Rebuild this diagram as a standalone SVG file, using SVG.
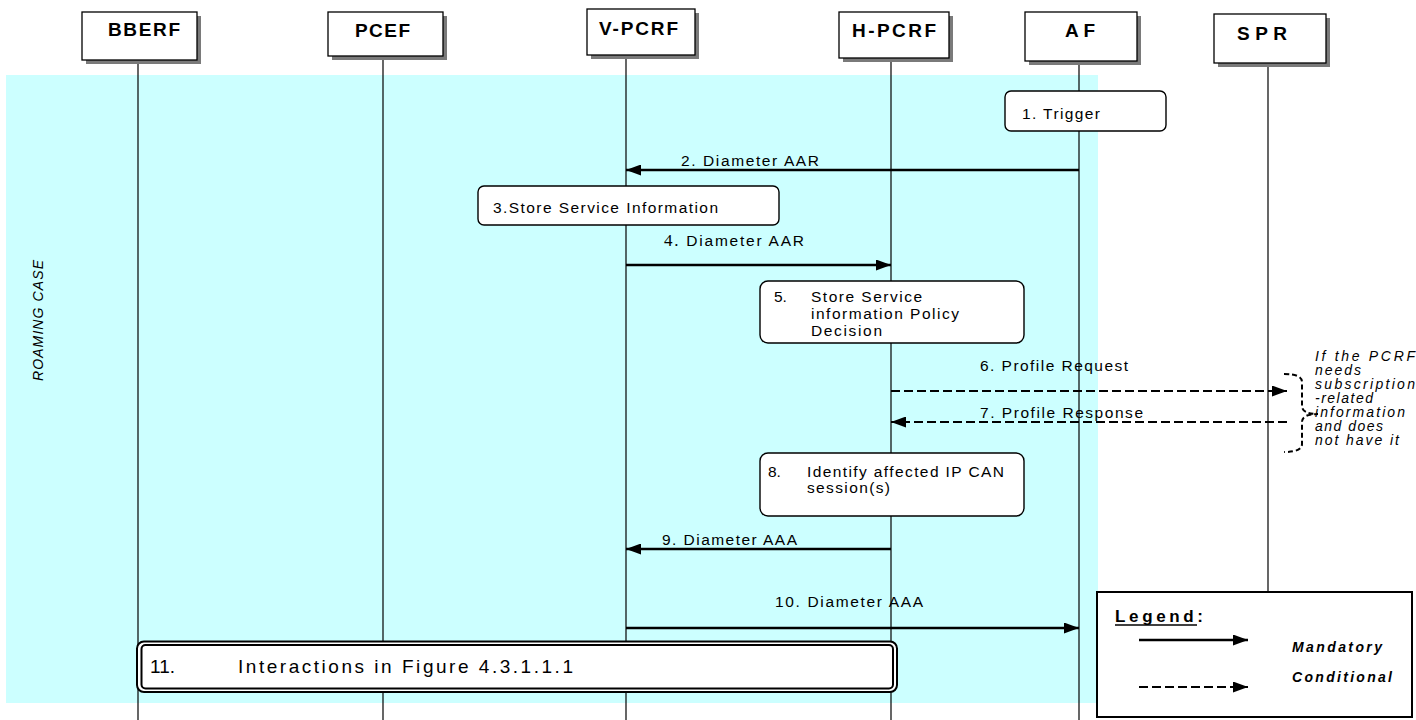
<svg xmlns="http://www.w3.org/2000/svg" width="1416" height="720" viewBox="0 0 1416 720">
<defs>
<style>
text{font-family:"Liberation Sans",Arial,sans-serif;fill:#000}
.pbox{fill:#fff;stroke:#000;stroke-width:1.3}
.shadow{fill:#7a7a7a}
.pname{font-size:19px;font-weight:bold}
.life{stroke:#000;stroke-width:1.2;fill:none}
.step{fill:#fff;stroke:#000;stroke-width:1.4}
.lbl{font-size:15.5px}
.msg{stroke:#000;stroke-width:2.5;fill:none}
.dash{stroke:#000;stroke-width:2;fill:none;stroke-dasharray:9 4}
.note{font-size:14px;font-style:italic}
</style>
<marker id="ah" markerUnits="userSpaceOnUse" markerWidth="15" markerHeight="11" refX="15" refY="5.5" orient="auto">
<path d="M0,0 L15,5.5 L0,11 Z" fill="#000"/>
</marker>
</defs>

<rect x="6" y="75" width="1092" height="628" fill="#CCFFFF"/>

<text class="note" transform="translate(43,381) rotate(-90)" x="0" y="0" font-size="15" textLength="121" lengthAdjust="spacing">ROAMING CASE</text>

<g id="BBERF">
<line class="life" x1="138" y1="60" x2="138" y2="720"/>
<rect class="shadow" x="86" y="16" width="115" height="48"/>
<rect class="pbox" x="82" y="12" width="115" height="48"/>
<text class="pname" x="108" y="36" textLength="72" lengthAdjust="spacing">BBERF</text>
</g>
<g id="PCEF">
<line class="life" x1="383" y1="56" x2="383" y2="720"/>
<rect class="shadow" x="332" y="16" width="115" height="44"/>
<rect class="pbox" x="328" y="12" width="115" height="44"/>
<text class="pname" x="355" y="37" textLength="55" lengthAdjust="spacing">PCEF</text>
</g>
<g id="V-PCRF">
<line class="life" x1="626" y1="55" x2="626" y2="720"/>
<rect class="shadow" x="591" y="13" width="108" height="46"/>
<rect class="pbox" x="587" y="9" width="108" height="46"/>
<text class="pname" x="599" y="35" textLength="79" lengthAdjust="spacing">V-PCRF</text>
</g>
<g id="H-PCRF">
<line class="life" x1="891" y1="58" x2="891" y2="720"/>
<rect class="shadow" x="843" y="16" width="110" height="46"/>
<rect class="pbox" x="839" y="12" width="110" height="46"/>
<text class="pname" x="852" y="37" textLength="84" lengthAdjust="spacing">H-PCRF</text>
</g>
<g id="AF">
<line class="life" x1="1079" y1="61" x2="1079" y2="720"/>
<rect class="shadow" x="1029" y="16" width="112" height="49"/>
<rect class="pbox" x="1025" y="12" width="112" height="49"/>
<text class="pname" x="1065" y="37" textLength="30" lengthAdjust="spacing">AF</text>
</g>
<g id="SPR">
<line class="life" x1="1268" y1="63" x2="1268" y2="592"/>
<rect class="shadow" x="1218" y="18" width="112" height="49"/>
<rect class="pbox" x="1214" y="14" width="112" height="49"/>
<text class="pname" x="1237" y="40" textLength="50" lengthAdjust="spacing">SPR</text>
</g>

<g id="step1">
<rect class="step" x="1005" y="91" width="161" height="40" rx="6"/>
<text class="lbl" x="1022" y="119" textLength="78" lengthAdjust="spacing">1. Trigger</text>
</g>
<g id="step3">
<rect class="step" x="478" y="186" width="301" height="39" rx="6"/>
<text class="lbl" x="493" y="213" textLength="225" lengthAdjust="spacing">3.Store Service Information</text>
</g>
<g id="step5">
<rect class="step" x="760" y="281" width="264" height="62" rx="8"/>
<text class="lbl" x="774" y="302">5.</text>
<text class="lbl" x="811" y="302" textLength="111" lengthAdjust="spacing">Store Service</text>
<text class="lbl" x="811" y="319" textLength="148" lengthAdjust="spacing">information Policy</text>
<text class="lbl" x="811" y="336" textLength="71" lengthAdjust="spacing">Decision</text>
</g>
<g id="step8">
<rect class="step" x="760" y="453" width="264" height="63" rx="8"/>
<text class="lbl" x="768" y="477">8.</text>
<text class="lbl" x="807" y="477" textLength="197" lengthAdjust="spacing">Identify affected IP CAN</text>
<text class="lbl" x="807" y="493" textLength="83" lengthAdjust="spacing">session(s)</text>
</g>
<g id="step11">
<rect x="137" y="641.5" width="760" height="50.5" rx="7" fill="#fff" stroke="#000" stroke-width="2"/>
<rect x="141.5" y="645" width="751.5" height="43.5" rx="4" fill="none" stroke="#000" stroke-width="2"/>
<text x="150" y="673" font-size="19">11.</text>
<text x="238" y="673" font-size="19" textLength="335" lengthAdjust="spacing">Interactions in Figure 4.3.1.1.1</text>
</g>

<g id="connectors">
<line class="msg" x1="1079" y1="170" x2="626" y2="170" marker-end="url(#ah)"/>
<text class="lbl" x="681" y="166" textLength="138" lengthAdjust="spacing">2. Diameter AAR</text>
<line class="msg" x1="626" y1="265" x2="891" y2="265" stroke-width="3" marker-end="url(#ah)"/>
<text class="lbl" x="664" y="246" textLength="140" lengthAdjust="spacing"><tspan font-family="'Liberation Serif',serif" font-size="17">4.</tspan> Diameter AAR</text>
<line class="dash" x1="891" y1="391" x2="1287" y2="391" marker-end="url(#ah)"/>
<text class="lbl" x="980" y="371" textLength="148" lengthAdjust="spacing">6. Profile Request</text>
<line class="dash" x1="1287" y1="422" x2="891" y2="422" marker-end="url(#ah)"/>
<text class="lbl" x="980" y="418" textLength="163" lengthAdjust="spacing">7. Profile Response</text>
<line class="msg" x1="891" y1="549" x2="626" y2="549" marker-end="url(#ah)"/>
<text class="lbl" x="662" y="545" textLength="135" lengthAdjust="spacing">9. Diameter AAA</text>
<line class="msg" x1="626" y1="628" x2="1079" y2="628" marker-end="url(#ah)"/>
<text class="lbl" x="775" y="607" textLength="148" lengthAdjust="spacing">10. Diameter AAA</text>
</g>

<g id="condition-note">
<path d="M1284,374 Q1302,374 1302,382 L1302,406 Q1302,414 1318,414 Q1302,414 1302,422 L1302,444 Q1302,452 1284,452" fill="none" stroke="#000" stroke-width="2" stroke-dasharray="5 3"/>
<text class="note" x="1315" y="361" textLength="100" lengthAdjust="spacing">If the PCRF</text>
<text class="note" x="1315" y="375" textLength="46" lengthAdjust="spacing">needs</text>
<text class="note" x="1315" y="389" textLength="100" lengthAdjust="spacing">subscription</text>
<text class="note" x="1315" y="403" textLength="58" lengthAdjust="spacing">-related</text>
<text class="note" x="1315" y="417" textLength="90" lengthAdjust="spacing">information</text>
<text class="note" x="1315" y="431" textLength="68" lengthAdjust="spacing">and does</text>
<text class="note" x="1315" y="445" textLength="84" lengthAdjust="spacing">not have it</text>
</g>

<g id="legend">
<rect x="1097" y="592" width="315" height="125" fill="#fff" stroke="#000" stroke-width="2"/>
<text x="1115" y="622" font-size="17" font-weight="bold" textLength="88" lengthAdjust="spacing">Legend:</text>
<line x1="1115" y1="625" x2="1197" y2="625" stroke="#000" stroke-width="1.5"/>
<line class="msg" x1="1139" y1="640" x2="1248" y2="640" marker-end="url(#ah)"/>
<text x="1292" y="652" font-size="14" font-weight="bold" font-style="italic" textLength="90" lengthAdjust="spacing">Mandatory</text>
<text x="1292" y="682" font-size="14" font-weight="bold" font-style="italic" textLength="100" lengthAdjust="spacing">Conditional</text>
<line class="dash" x1="1139" y1="687" x2="1248" y2="687" stroke-dasharray="7 4" marker-end="url(#ah)"/>
</g>
</svg>
